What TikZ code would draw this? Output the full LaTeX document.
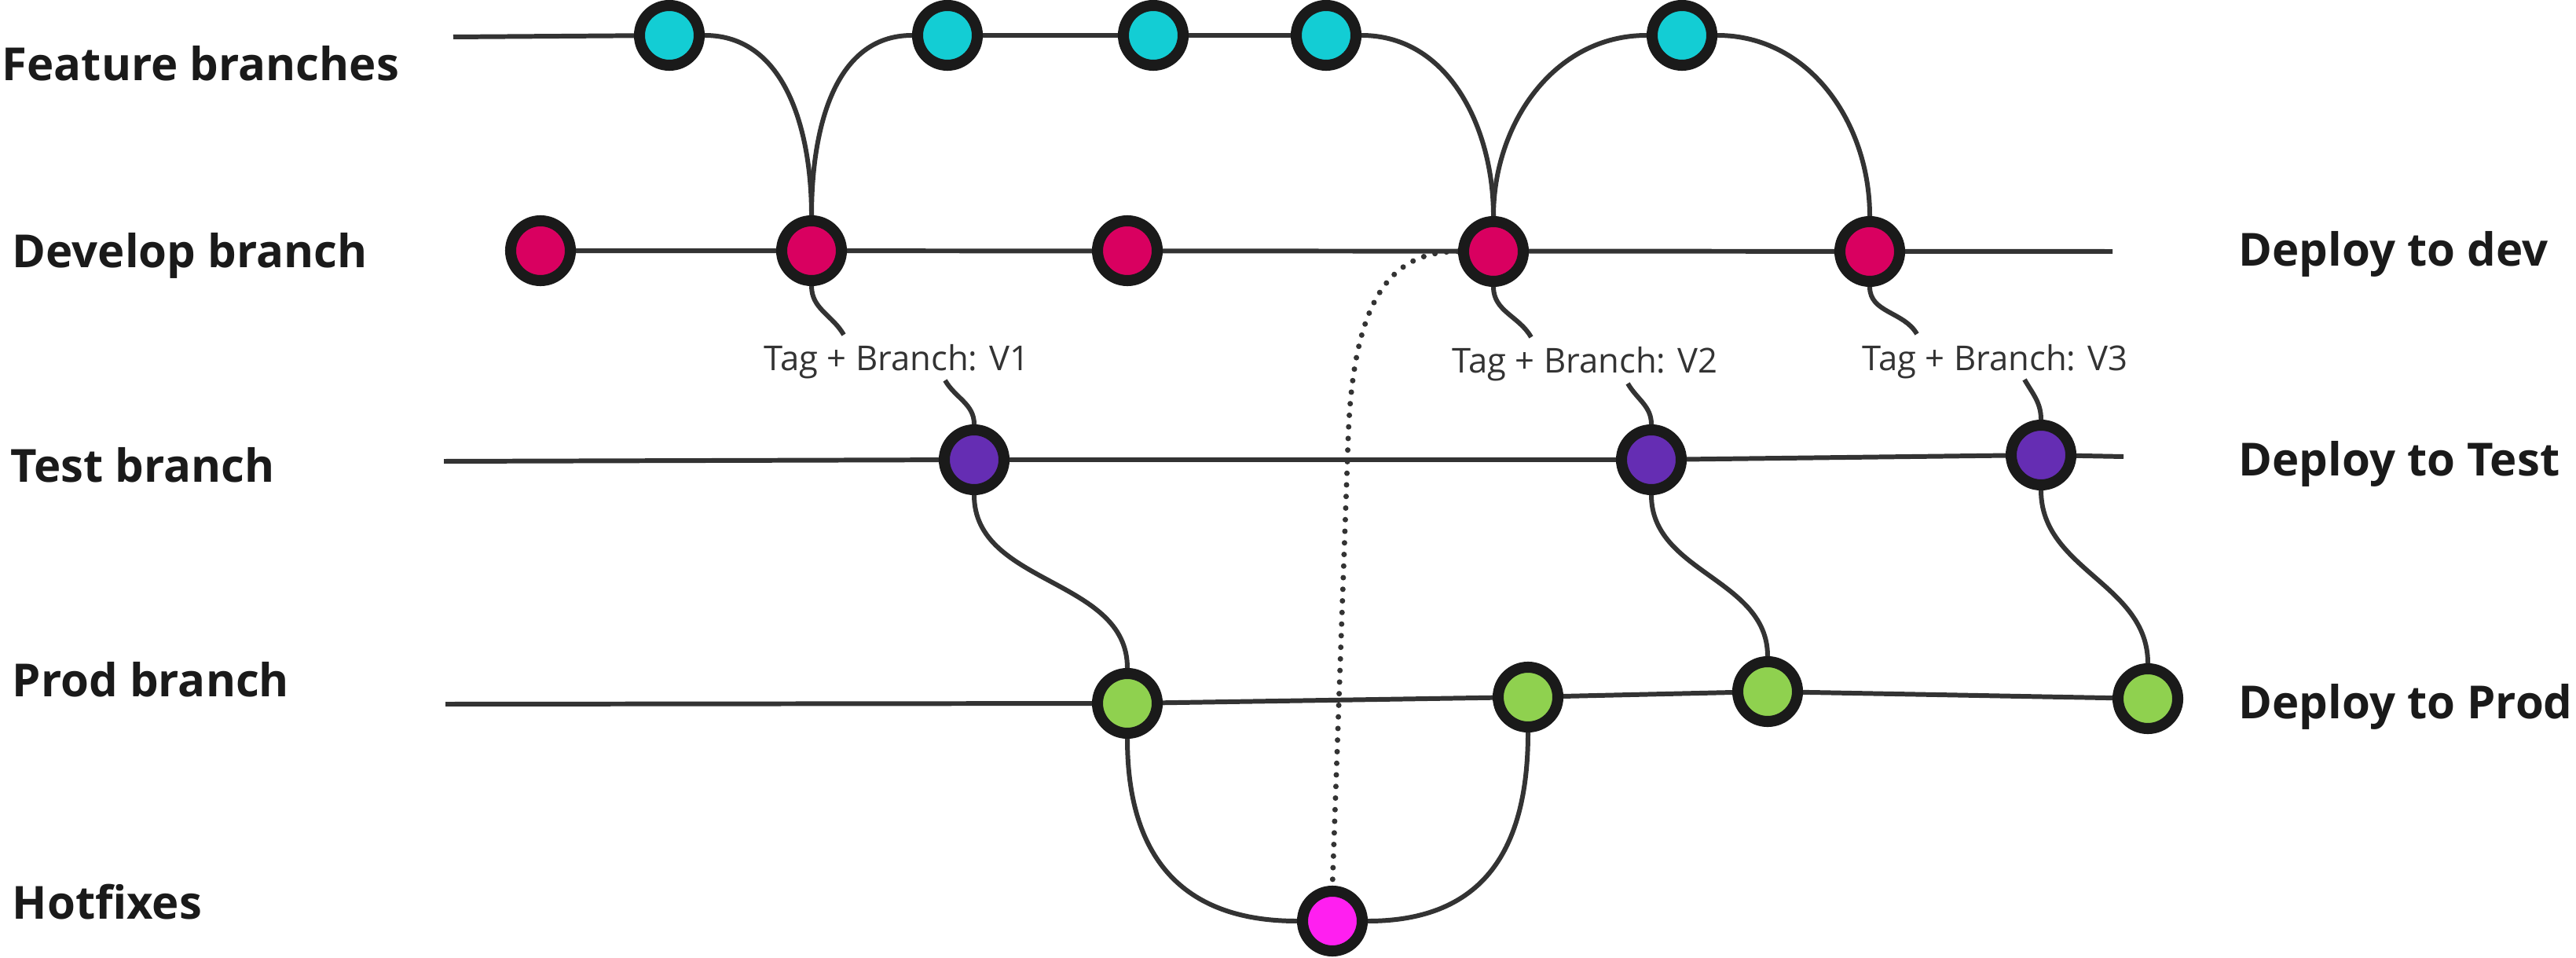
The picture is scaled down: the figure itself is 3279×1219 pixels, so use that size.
\documentclass[tikz,border=0pt]{standalone}
\usepackage{fontspec}
\setmainfont{Open Sans}
\usetikzlibrary{backgrounds}
\definecolor{featc}{HTML}{13CDD4}
\definecolor{devc}{HTML}{D90060}
\definecolor{testc}{HTML}{652DB3}
\definecolor{prodc}{HTML}{8FD14F}
\definecolor{hotc}{HTML}{FF1FF0}
\definecolor{edgec}{HTML}{1A1A1A}
\definecolor{linec}{HTML}{333333}
\begin{document}
\begin{tikzpicture}[x=0.01cm,y=-0.01cm,
  commit/.style={circle, draw=edgec, line width=4pt, minimum size=0.76cm, inner sep=0pt},
  conn/.style={draw=linec, line width=1.7pt},
  dotconn/.style={draw=linec, line width=2pt, line cap=round, dash pattern=on 0pt off 4.2pt},
  lbl/.style={anchor=base west, font=\fontsize{16.5}{18}\selectfont\bfseries, text=edgec, inner sep=0pt},
  tag/.style={anchor=base west, font=\fontsize{12.4}{14}\selectfont, text=linec, inner sep=0pt}]
\useasboundingbox (0,0) rectangle (3279,1219);

% labels
\node[lbl] (lf) at (2,103) {Feature branches};
\node[lbl] (ld) at (15,341) {Develop branch};
\node[lbl] (lt) at (13,614) {Test branch};
\node[lbl] (lp) at (15,886) {Prod branch};
\node[lbl] (lh) at (15,1169) {Hotfixes};
\node[lbl] (rd) at (2849,339) {Deploy to dev};
\node[lbl] (rt) at (2849,606) {Deploy to Test};
\node[lbl] (rp) at (2849,914) {Deploy to Prod};

\node[tag] (v1) at (972,472) {Tag + Branch: V1};
\node[tag] (v2) at (1848,475) {Tag + Branch: V2};
\node[tag] (v3) at (2370,472) {Tag + Branch: V3};

% commits
\node[commit,fill=featc] (F1) at (852,45) {};
\node[commit,fill=featc] (F2) at (1206,45) {};
\node[commit,fill=featc] (F3) at (1468,45) {};
\node[commit,fill=featc] (F4) at (1688,45) {};
\node[commit,fill=featc] (F5) at (2141,45) {};
\node[commit,fill=devc] (D1) at (688,319) {};
\node[commit,fill=devc] (D2) at (1033,319) {};
\node[commit,fill=devc] (D3) at (1435,319) {};
\node[commit,fill=devc] (D4) at (1901,320) {};
\node[commit,fill=devc] (D5) at (2380,320) {};
\node[commit,fill=testc] (T1) at (1240,585) {};
\node[commit,fill=testc] (T2) at (2102,585) {};
\node[commit,fill=testc] (T3) at (2598,579) {};
\node[commit,fill=prodc] (P1) at (1435,895) {};
\node[commit,fill=prodc] (P2) at (1945,887) {};
\node[commit,fill=prodc] (P3) at (2250,880) {};
\node[commit,fill=prodc] (P4) at (2734,889) {};
\node[commit,fill=hotc] (H) at (1696,1172) {};

% free ends
\coordinate (fs) at (577,47);
\coordinate (de) at (2689,320);
\coordinate (ts) at (565,587);
\coordinate (te) at (2703,581);
\coordinate (ps) at (567,896);
\coordinate (a1) at (1074,426);
\coordinate (b1) at (1203,484);
\coordinate (a2) at (1949,429);
\coordinate (b2) at (2072,488);
\coordinate (a3) at (2440,425);
\coordinate (b3) at (2577,483);
\coordinate (dm) at (1716,560);

\begin{scope}[on background layer]
  % branch lines
  \draw[conn] (fs) -- (F1.center);
  \draw[conn] (F2.center) -- (F3.center) -- (F4.center);
  \draw[conn] (D1.center) -- (de);
  \draw[conn] (ts) -- (T1.center) -- (T2.center) -- (T3.center) -- (te);
  \draw[conn] (ps) -- (P1.center) -- (P2.center) -- (P3.center) -- (P4.center);
  % feature merges
  \draw[conn] (F1.east) to[out=0,in=90] (D2.north);
  \draw[conn] (D2.north) to[out=90,in=180] (F2.west);
  \draw[conn] (F4.east) to[out=0,in=90] (D4.north);
  \draw[conn] (D4.north) to[out=90,in=180] (F5.west);
  \draw[conn] (F5.east) to[out=0,in=90] (D5.north);
  % tags
  \draw[conn] (D2.south) to[out=-90,in=120] (a1);
  \draw[conn] (b1) to[out=-60,in=90] (T1.north);
  \draw[conn] (D4.south) to[out=-90,in=120] (a2);
  \draw[conn] (b2) to[out=-60,in=90] (T2.north);
  \draw[conn] (D5.south) to[out=-90,in=120] (a3);
  \draw[conn] (b3) to[out=-60,in=90] (T3.north);
  % releases
  \draw[conn] (T1.south) to[out=-90,in=90] (P1.north);
  \draw[conn] (T2.south) to[out=-90,in=90] (P3.north);
  \draw[conn] (T3.south) to[out=-90,in=90] (P4.north);
  % hotfix
  \draw[conn] (P1.south) to[out=-90,in=180,looseness=1.2] (H.west);
  \draw[conn] (H.east) to[out=0,in=-90,looseness=1.2] (P2.south);
  \draw[dotconn] (D4.west) .. controls (1770,320) and (1722,380) .. (dm) -- (H.north);
\end{scope}
\end{tikzpicture}
\end{document}
